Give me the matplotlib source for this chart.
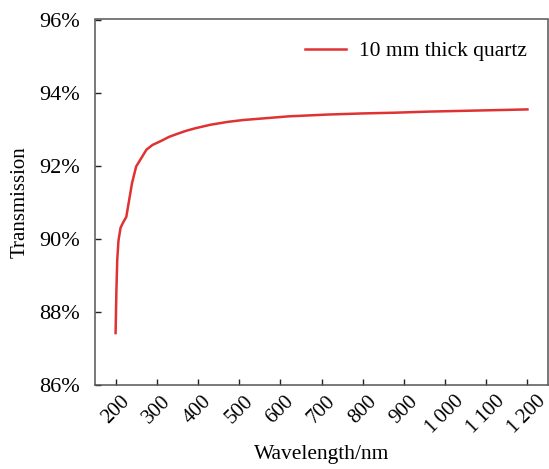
import matplotlib
matplotlib.use("Agg")
import matplotlib.pyplot as plt
from matplotlib.ticker import FuncFormatter

plt.rcParams['font.family'] = ['Liberation Serif', 'DejaVu Serif']

# wavelength (nm) and transmission (%)
wavelength = [200, 202, 204, 207, 212, 218, 226, 232, 240, 250, 262, 275,
              290, 311, 330, 352, 370, 392, 430, 473, 510, 554, 620, 716,
              800, 878, 960, 1040, 1120, 1200]
transmission = [87.42, 88.6, 89.42, 89.95, 90.3, 90.44, 90.6, 91.0, 91.53,
                91.98, 92.2, 92.44, 92.57, 92.68, 92.79, 92.88, 92.95, 93.02,
                93.12, 93.2, 93.25, 93.29, 93.35, 93.40, 93.43, 93.45, 93.48,
                93.50, 93.52, 93.54]
x_ticks = [200, 300, 400, 500, 600, 700, 800, 900, 1000, 1100, 1200]
y_ticks = [86, 88, 90, 92, 94, 96]
series_label = '10 mm thick quartz'

fig = plt.figure(figsize=(5.49, 4.69), dpi=100)
ax = fig.add_axes([95/549, 84/469, 453/549, 365.5/469])

ax.plot(wavelength, transmission, color='#e03232', lw=1.8, label=series_label)

ax.set_xlim(150, 1250)
ax.set_ylim(86, 96)
ax.set_xticks(x_ticks)
ax.set_yticks(y_ticks)
ax.xaxis.set_major_formatter(FuncFormatter(lambda v, p: f'{int(v):,}'.replace(',', '\u2009')))
ax.yaxis.set_major_formatter(FuncFormatter(lambda v, p: f'{int(v)}%'))
ax.tick_params(direction='in', length=4, width=1, color='#222222')
ax.tick_params(axis='x', pad=5, labelsize=15)
ax.tick_params(axis='y', pad=11, labelsize=16)
for lab in ax.get_xticklabels():
    lab.set_rotation(45)
    lab.set_ha('center')

for s in ax.spines.values():
    s.set_color('#555555')
    s.set_linewidth(1.1)

ax.set_xlabel('Wavelength/nm', fontsize=15.5, labelpad=5)
ax.set_ylabel('Transmission', fontsize=15, labelpad=7)

ax.legend(loc='upper right', frameon=False, fontsize=15.5, handlelength=1.9,
          handletextpad=0.6, borderaxespad=0.6)

fig.savefig('out.png', dpi=100)
